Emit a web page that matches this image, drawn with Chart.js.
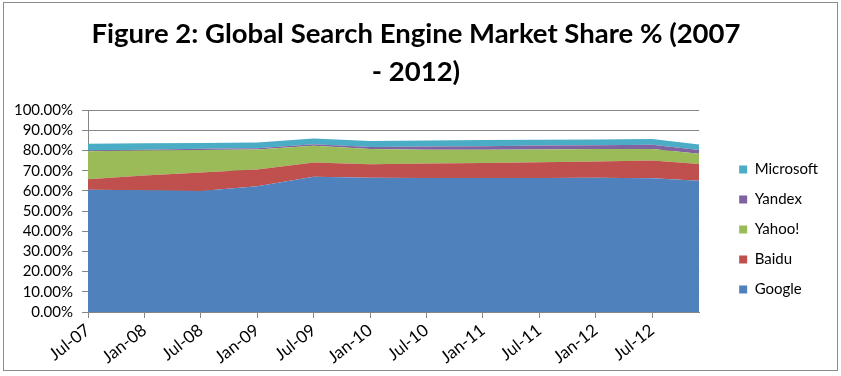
<!DOCTYPE html>
<html>
<head>
<meta charset="utf-8">
<script src="https://cdn.jsdelivr.net/npm/chart.js@4/dist/chart.umd.min.js"></script>
<style>
  html, body { margin: 0; padding: 0; background: #fff; }
  #wrap { width: 841px; height: 376px; }
</style>
</head>
<body>
<div id="wrap"><canvas id="shareChart"></canvas></div>
<script>
// months after Jul-07 at which each value was read
const months = [0, 6, 12, 18, 24, 30, 36, 42, 48, 54, 60, 65];
const tickLabels = ['Jul-07', 'Jan-08', 'Jul-08', 'Jan-09', 'Jul-09', 'Jan-10',
                    'Jul-10', 'Jan-11', 'Jul-11', 'Jan-12', 'Jul-12'];

// market share, %
const google    = [60.6, 60.3, 60.0, 62.3, 67.1, 66.5, 66.4, 66.4, 66.4, 66.5, 66.3, 65.1];
const baidu     = [5.2, 7.3, 9.2, 8.3, 7.0, 6.7, 7.2, 7.4, 7.8, 8.1, 8.8, 8.2];
const yahoo     = [13.9, 12.4, 11.1, 10.0, 8.3, 7.6, 6.8, 6.6, 6.4, 6.2, 5.7, 5.1];
const yandex    = [0.3, 0.4, 0.6, 0.6, 0.8, 1.0, 1.6, 1.8, 1.9, 1.9, 2.1, 1.9];
const microsoft = [3.4, 3.2, 2.9, 2.8, 2.8, 3.0, 3.0, 3.0, 2.9, 2.8, 2.8, 2.7];

const FONT = 'Lato, "Open Sans", sans-serif';
const AXIS_GREY = '#868686';

const toPoints = (vals) => vals.map((v, i) => ({x: months[i], y: v}));

const makeArea = (label, vals, color, fill) => ({
    label: label,
    data: toPoints(vals),
    backgroundColor: color,
    borderColor: color,
    borderWidth: 0,
    pointRadius: 0,
    pointHoverRadius: 0,
    tension: 0,
    fill: fill
});

const chartFrame = {
    id: 'chartFrame',
    beforeDraw(chart) {
        const ctx = chart.ctx;
        ctx.save();
        ctx.fillStyle = '#fff';
        ctx.fillRect(0, 0, chart.width, chart.height);
        ctx.strokeStyle = '#8c8c8c';
        ctx.lineWidth = 1;
        ctx.strokeRect(3.5, 2.5, 834, 368);
        ctx.restore();
    }
};

const config = {
    type: 'line',
    data: {
        datasets: [
            makeArea('Google', google, '#4F81BD', 'origin'),
            makeArea('Baidu', baidu, '#C0504D', '-1'),
            makeArea('Yahoo!', yahoo, '#9BBB59', '-1'),
            makeArea('Yandex', yandex, '#8064A2', '-1'),
            makeArea('Microsoft', microsoft, '#4BACC6', '-1')
        ]
    },
    options: {
        responsive: true,
        maintainAspectRatio: false,
        animation: false,
        layout: { padding: { left: 4, right: 13, top: 10, bottom: 6 } },
        plugins: {
            title: {
                display: true,
                text: ['Figure 2: Global Search Engine Market Share % (2007', '- 2012)'],
                color: '#000',
                font: { family: FONT, size: 27.5, weight: 'bold', lineHeight: 1.35 },
                padding: { top: 6, bottom: 20 }
            },
            legend: {
                position: 'right',
                align: 'end',
                fullSize: false,
                reverse: true,
                labels: {
                    color: '#000',
                    boxWidth: 8,
                    boxHeight: 8,
                    padding: 15,
                    font: { family: FONT, size: 15 }
                }
            },
            tooltip: { enabled: false }
        },
        scales: {
            x: {
                type: 'linear',
                min: 0,
                max: 65,
                border: { color: AXIS_GREY },
                grid: { drawOnChartArea: false, drawTicks: true, tickLength: 6, color: AXIS_GREY },
                ticks: {
                    stepSize: 6,
                    includeBounds: false,
                    autoSkip: false,
                    minRotation: 38,
                    maxRotation: 38,
                    padding: 2,
                    color: '#000',
                    font: { family: FONT, size: 17 },
                    callback: (v) => tickLabels[v / 6]
                },
                afterFit: (axis) => { axis.height = 58; }
            },
            y: {
                stacked: true,
                min: 0,
                max: 100,
                border: { color: AXIS_GREY },
                grid: { color: AXIS_GREY, tickLength: 6 },
                ticks: {
                    stepSize: 10,
                    autoSkip: false,
                    padding: 9,
                    color: '#000',
                    font: { family: FONT, size: 15 },
                    callback: (v) => v.toFixed(2) + '%'
                },
                afterFit: (axis) => { axis.width = 84; }
            },
            gap: {
                position: 'right',
                display: true,
                border: { display: false },
                grid: { display: false },
                ticks: { display: false },
                afterFit: (axis) => { axis.width = 25; }
            }
        }
    },
    plugins: [chartFrame]
};

new Chart(document.getElementById('shareChart'), config);
</script>
</body>
</html>
